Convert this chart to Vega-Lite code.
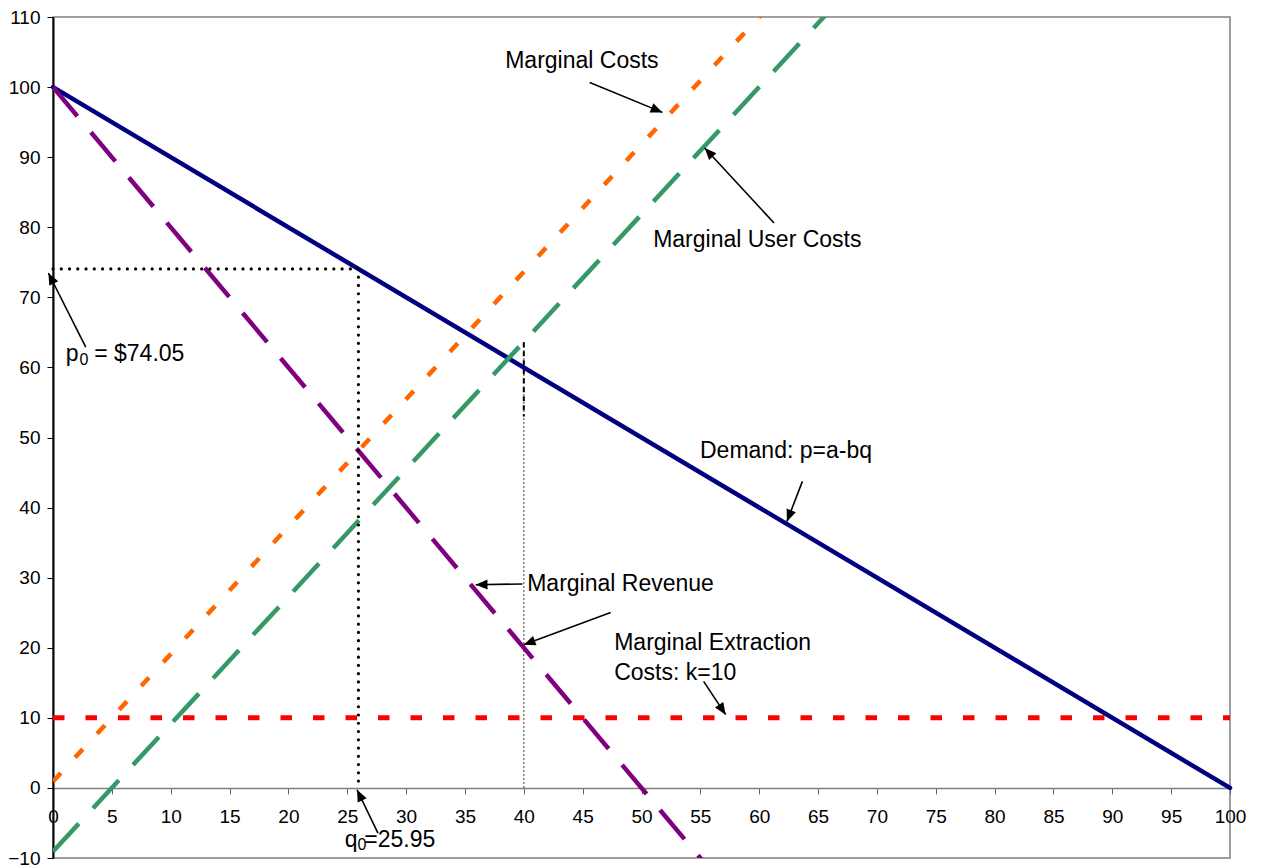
{
  "$schema": "https://vega.github.io/schema/vega-lite/v6.json",
  "width": 1177,
  "height": 841,
  "autosize": {"type": "none"},
  "padding": {"left": 53, "top": 17, "right": 32, "bottom": 9},
  "background": "white",
  "config": {
    "view": {"stroke": "#808080", "strokeWidth": 1.5},
    "font": "Liberation Sans",
    "axis": {"labelFont": "Liberation Sans", "labelFontSize": 19, "labelColor": "black", "grid": false, "title": null}
  },
  "datasets": {
    "segments": [
      {"series": "extraction", "q": 0, "p": 10, "q2": 100, "p2": 10},
      {"series": "demand", "q": 0, "p": 100, "q2": 100, "p2": 0},
      {"series": "mr", "q": 0, "p": 100, "q2": 56, "p2": -12},
      {"series": "muc", "q": 0, "p": -9.08, "q2": 70, "p2": 118.2},
      {"series": "mc", "q": 0, "p": 0.92, "q2": 65, "p2": 119.1},
      {"series": "p0", "q": 0, "p": 74.05, "q2": 25.95, "p2": 74.05},
      {"series": "q0", "q": 25.95, "p": 74.05, "q2": 25.95, "p2": 0},
      {"series": "q40dot", "q": 40, "p": 0, "q2": 40, "p2": 63.6},
      {"series": "q40dash", "q": 40, "p": 63.6, "q2": 40, "p2": 53}
    ],
    "labels": [
      {"text": "Marginal Costs", "q": 38.42, "p": 102.77},
      {"text": "Marginal User Costs", "q": 50.99, "p": 77.23},
      {"text": "Demand: p=a-bq", "q": 54.97, "p": 47.12},
      {"text": "Marginal Revenue", "q": 40.29, "p": 28.14},
      {"text": "Marginal Extraction", "q": 47.68, "p": 19.72},
      {"text": "Costs: k=10", "q": 47.68, "p": 15.44},
      {"text": "p", "q": 1.08, "p": 60.96},
      {"text": "= $74.05", "q": 3.5, "p": 60.96},
      {"text": "q", "q": 24.78, "p": -8.39},
      {"text": "=25.95", "q": 26.45, "p": -8.39}
    ],
    "subscripts": [
      {"text": "0", "q": 2.25, "p": 60.3},
      {"text": "0", "q": 25.88, "p": -8.82}
    ],
    "arrows": [
      {"tq": 45.60, "tp": 100.67, "hq": 51.78, "hp": 96.39},
      {"tq": 61.26, "tp": 80.61, "hq": 55.37, "hp": 91.31},
      {"tq": 2.78, "tp": 62.91, "hq": -0.39, "hp": 73.47},
      {"tq": 63.67, "tp": 43.74, "hq": 62.36, "hp": 38.03},
      {"tq": 39.88, "tp": 29.10, "hq": 35.91, "hp": 29.00},
      {"tq": 47.38, "tp": 25.04, "hq": 39.99, "hp": 20.43},
      {"tq": 55.28, "tp": 15.20, "hq": 57.15, "hp": 10.45},
      {"tq": 27.61, "tp": -6.44, "hq": 25.83, "hp": -0.26}
    ]
  },
  "encoding": {
    "x": {"type": "quantitative", "scale": {"domain": [0, 100], "nice": false, "zero": false}},
    "y": {"type": "quantitative", "scale": {"domain": [-10, 110], "nice": false, "zero": false}}
  },
  "layer": [
    {
      "data": {"name": "segments"},
      "transform": [{"filter": "datum.series === 'q40dot'"}],
      "mark": {"type": "rule", "color": "#808080", "strokeWidth": 1.5, "strokeDash": [2, 2]},
      "encoding": {
        "x": {"field": "q", "type": "quantitative",
          "axis": {"orient": "bottom", "offset": -70.08, "values": [0,5,10,15,20,25,30,35,40,45,50,55,60,65,70,75,80,85,90,95,100], "domainColor": "#808080", "domainWidth": 1.5, "tickColor": "#606060", "tickSize": 6, "labelPadding": 14, "labelFlush": false, "labelOverlap": false}},
        "y": {"field": "p", "type": "quantitative",
          "axis": {"orient": "left", "values": [-10,0,10,20,30,40,50,60,70,80,90,100,110], "domainColor": "black", "domainWidth": 2, "tickColor": "black", "tickSize": 6, "labelPadding": 7, "labelFlush": false, "labelOverlap": false}},
        "x2": {"field": "q2"},
        "y2": {"field": "p2"}
      }
    },
    {
      "data": {"name": "segments"},
      "transform": [{"filter": "datum.series === 'q40dash'"}],
      "mark": {"type": "rule", "color": "black", "strokeWidth": 2, "strokeDash": [5, 4]},
      "encoding": {"x": {"field": "q"}, "y": {"field": "p"}, "x2": {"field": "q2"}, "y2": {"field": "p2"}}
    },
    {
      "data": {"name": "segments"},
      "transform": [{"filter": "datum.series === 'extraction'"}],
      "mark": {"type": "rule", "color": "#FF0000", "strokeWidth": 5, "strokeDash": [11.5, 21]},
      "encoding": {"x": {"field": "q"}, "y": {"field": "p"}, "x2": {"field": "q2"}, "y2": {"field": "p2"}}
    },
    {
      "data": {"name": "segments"},
      "transform": [{"filter": "datum.series === 'demand'"}],
      "mark": {"type": "rule", "color": "#000080", "strokeWidth": 4.5, "strokeCap": "round"},
      "encoding": {"x": {"field": "q"}, "y": {"field": "p"}, "x2": {"field": "q2"}, "y2": {"field": "p2"}}
    },
    {
      "data": {"name": "segments"},
      "transform": [{"filter": "datum.series === 'muc'"}],
      "mark": {"type": "rule", "color": "#339966", "strokeWidth": 4.5, "strokeDash": [38, 21], "clip": true},
      "encoding": {"x": {"field": "q"}, "y": {"field": "p"}, "x2": {"field": "q2"}, "y2": {"field": "p2"}}
    },
    {
      "data": {"name": "segments"},
      "transform": [{"filter": "datum.series === 'mr'"}],
      "mark": {"type": "rule", "color": "#800080", "strokeWidth": 4.5, "strokeDash": [38, 21], "clip": true},
      "encoding": {"x": {"field": "q"}, "y": {"field": "p"}, "x2": {"field": "q2"}, "y2": {"field": "p2"}}
    },
    {
      "data": {"name": "segments"},
      "transform": [{"filter": "datum.series === 'mc'"}],
      "mark": {"type": "rule", "color": "#FF6600", "strokeWidth": 4.5, "strokeDash": [11.5, 21], "clip": true},
      "encoding": {"x": {"field": "q"}, "y": {"field": "p"}, "x2": {"field": "q2"}, "y2": {"field": "p2"}}
    },
    {
      "data": {"name": "segments"},
      "transform": [{"filter": "datum.series === 'p0' || datum.series === 'q0'"}],
      "mark": {"type": "rule", "color": "black", "strokeWidth": 3.2, "strokeCap": "round", "strokeDash": [0.01, 8.25]},
      "encoding": {"x": {"field": "q"}, "y": {"field": "p"}, "x2": {"field": "q2"}, "y2": {"field": "p2"}}
    },
    {
      "data": {"name": "arrows"},
      "mark": {"type": "rule", "color": "black", "strokeWidth": 1.6},
      "encoding": {"x": {"field": "tq"}, "y": {"field": "tp"}, "x2": {"field": "hq"}, "y2": {"field": "hp"}}
    },
    {
      "data": {"name": "arrows"},
      "transform": [{"calculate": "atan2((datum.hq - datum.tq) * 11.77, (datum.hp - datum.tp) * 7.008) * 180 / PI", "as": "ang"}],
      "mark": {"type": "point", "shape": "M0,0L-0.42,1L0.42,1Z", "filled": true, "color": "black", "opacity": 1, "size": 560},
      "encoding": {"x": {"field": "hq"}, "y": {"field": "hp"}, "angle": {"field": "ang", "type": "quantitative", "scale": null}}
    },
    {
      "data": {"name": "labels"},
      "mark": {"type": "text", "align": "left", "baseline": "alphabetic", "fontSize": 23, "color": "black", "font": "Liberation Sans"},
      "encoding": {"x": {"field": "q"}, "y": {"field": "p"}, "text": {"field": "text"}}
    },
    {
      "data": {"name": "subscripts"},
      "mark": {"type": "text", "align": "left", "baseline": "alphabetic", "fontSize": 16, "color": "black", "font": "Liberation Sans"},
      "encoding": {"x": {"field": "q"}, "y": {"field": "p"}, "text": {"field": "text"}}
    }
  ]
}
